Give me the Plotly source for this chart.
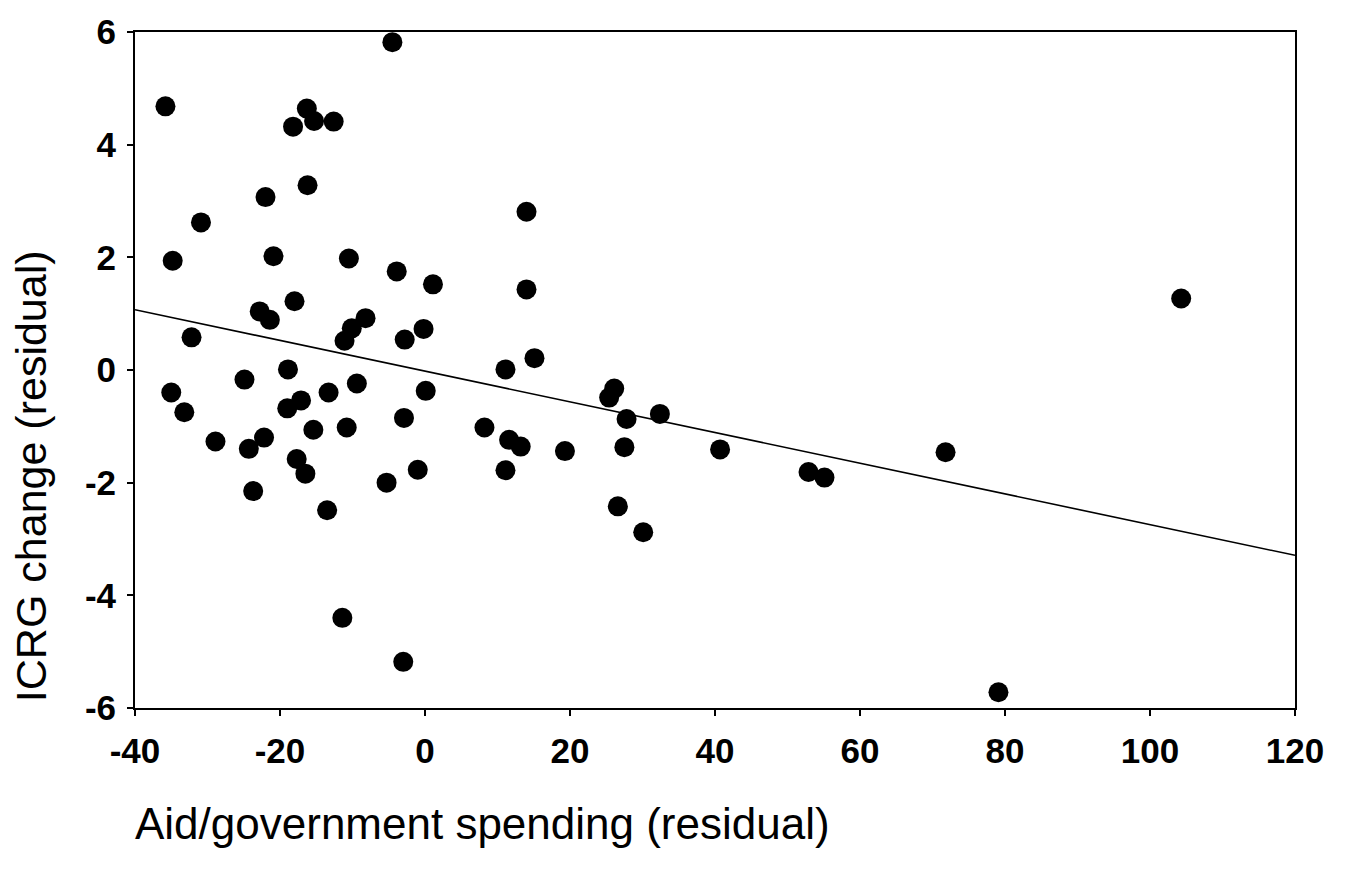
import plotly.graph_objects as go

# Partial-regression scatter: aid/government spending vs. ICRG change (both residuals)
aid_resid = [
    -35.8, -4.5, -16.3, -18.2, -15.3, -12.6, -16.2, -22.0, -30.9, 14.0,
    -34.8, -20.9, -10.5, -3.9, 1.1, 14.0, -18.0, -22.8, -21.4, -8.2,
    -10.1, -11.1, -0.2, -2.8, -32.2, -18.9, -24.9, 11.1, 15.1, -35.0,
    -33.2, -9.4, -13.3, 0.1, -17.1, -19.0, -2.9, -15.4, -10.8, 8.2,
    -28.9, -22.2, -24.3, 11.6, 13.2, -17.7, -16.5, -1.0, -5.3, 11.1,
    -23.7, -13.5, -11.4, -3.0, 26.1, 25.4, 27.8, 32.4, 19.3, 27.5,
    40.7, 26.6, 30.1, 52.9, 55.1, 71.8, 79.1, 104.3,
]
icrg_resid = [
    4.68, 5.82, 4.64, 4.32, 4.42, 4.41, 3.28, 3.07, 2.62, 2.81,
    1.94, 2.02, 1.98, 1.75, 1.52, 1.43, 1.22, 1.04, 0.89, 0.92,
    0.74, 0.52, 0.73, 0.54, 0.58, 0.01, -0.17, 0.01, 0.21, -0.40,
    -0.75, -0.24, -0.40, -0.37, -0.54, -0.68, -0.85, -1.06, -1.02, -1.02,
    -1.27, -1.20, -1.40, -1.24, -1.36, -1.58, -1.84, -1.77, -2.00, -1.78,
    -2.15, -2.49, -4.40, -5.18, -0.33, -0.49, -0.87, -0.78, -1.44, -1.37,
    -1.41, -2.42, -2.88, -1.81, -1.91, -1.46, -5.72, 1.27,
]

# Fitted regression line
fit_intercept = -0.02
fit_slope = -0.02725
fit_x = [-40, 120]
fit_y = [fit_intercept + fit_slope * v for v in fit_x]

x_ticks = [-40, -20, 0, 20, 40, 60, 80, 100, 120]
x_tick_text = ["-40", "-20", "0", "20", "40", "60", "80", "100", "120"]
y_ticks = [-6, -4, -2, 0, 2, 4, 6]
y_tick_text = ["-6", "-4", "-2", "0", "2", "4", "6"]

FONT = "Liberation Sans, Arial, sans-serif"

fig = go.Figure()
fig.add_trace(go.Scatter(
    x=fit_x, y=fit_y, mode="lines",
    line=dict(color="black", width=1.6),
    hoverinfo="skip", showlegend=False,
))
fig.add_trace(go.Scatter(
    x=aid_resid, y=icrg_resid, mode="markers",
    marker=dict(color="black", size=20, line=dict(width=0)),
    showlegend=False,
))

axis_common = dict(
    showgrid=False, zeroline=False,
    showline=True, linecolor="black", linewidth=2, mirror=True,
    ticks="outside", ticklen=6, tickwidth=1.5, tickcolor="black",
    tickfont=dict(family=FONT, size=35, color="black", weight="bold"),
)

fig.update_xaxes(
    range=[-40, 120], tickvals=x_ticks, ticktext=x_tick_text,
    ticklabelstandoff=5, **axis_common,
)
fig.update_yaxes(
    range=[-6, 6], tickvals=y_ticks, ticktext=y_tick_text,
    ticklabelstandoff=4, **axis_common,
)

fig.add_annotation(
    text="Aid/government spending (residual)",
    xref="paper", yref="paper", x=0, y=0,
    xanchor="left", yanchor="middle", yshift=-115, xshift=-2,
    showarrow=False, font=dict(family=FONT, size=44, color="black"),
)
fig.add_annotation(
    text="ICRG change (residual)",
    xref="paper", yref="paper", x=0, y=0.343,
    xanchor="center", yanchor="middle", xshift=-104,
    textangle=-90, showarrow=False,
    font=dict(family=FONT, size=43, color="black"),
)

fig.update_layout(
    width=1348, height=871,
    margin=dict(l=135, r=53, t=25, b=163),
    plot_bgcolor="white", paper_bgcolor="white",
)

fig.write_html("out.html")
